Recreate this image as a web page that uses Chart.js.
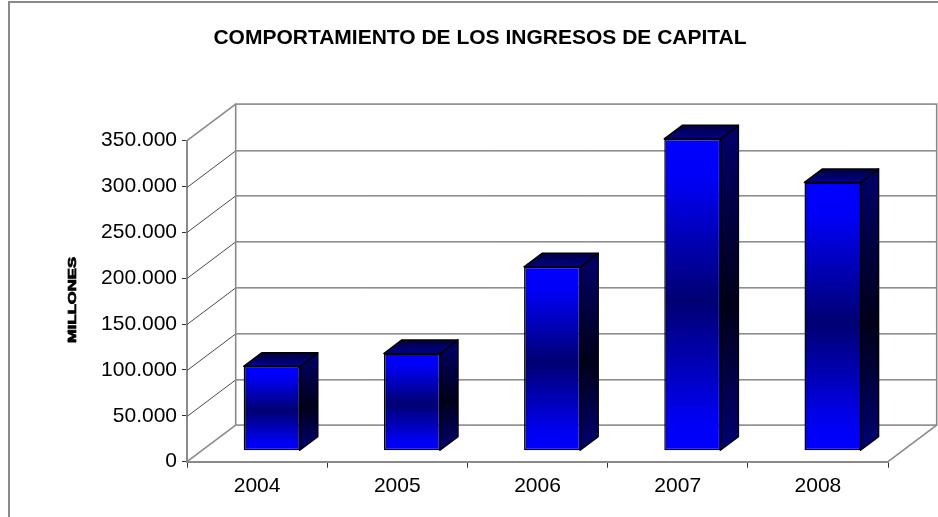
<!DOCTYPE html>
<html>
<head>
<meta charset="utf-8">
<script src="https://cdn.jsdelivr.net/npm/chart.js@4.4.1/dist/chart.umd.min.js"></script>
<style>
  html, body { margin: 0; padding: 0; background: #fff; }
  #wrap { width: 938px; height: 517px; position: relative; }
</style>
</head>
<body>
<div id="wrap"><canvas id="c"></canvas></div>
<script>
// datos (millones)
const years = ["2004", "2005", "2006", "2007", "2008"];
const ingresos = [92000, 106000, 200500, 340000, 292500];
const yMin = 0, yMax = 350000, yStep = 50000;
const titulo = "COMPORTAMIENTO DE LOS INGRESOS DE CAPITAL";
const ejeY = "MILLONES";

// oblique 3D look: full depth of the floor, where the bar front sits, bar depth
const DEPTH = { x: 48.7, y: -36.6 };
const BAR_FRONT = 0.30;
const BAR_DEPTH = 0.37;
const FONT = "'Liberation Sans', Arial, sans-serif";

const fmt = v => String(v).replace(/\B(?=(\d{3})+(?!\d))/g, ".");

function frontGradient(c) {
  const chart = c.chart;
  if (!chart.chartArea) return "#0000ff";
  const y = chart.scales.y;
  const t = y.getPixelForValue(c.raw), b = y.getPixelForValue(0);
  const g = chart.ctx.createLinearGradient(0, t, 0, b);
  g.addColorStop(0, "#0000ff");
  g.addColorStop(0.12, "#0000f8");
  g.addColorStop(0.52, "#000072");
  g.addColorStop(0.9, "#0000f2");
  g.addColorStop(1, "#0000ff");
  return g;
}

const box3d = {
  id: "box3d",
  beforeDraw(chart) {
    const ctx = chart.ctx;
    ctx.save();
    ctx.strokeStyle = "#8a8a8a";
    ctx.lineWidth = 2;
    ctx.strokeRect(9, 2, 940, 520);
    ctx.restore();
  },
  beforeDatasetsDraw(chart) {
    const ctx = chart.ctx;
    const { left, right, top, bottom } = chart.chartArea;
    const y = chart.scales.y;
    const dx = DEPTH.x, dy = DEPTH.y;
    ctx.save();
    // gridlines: side wall diagonals + back wall
    ctx.lineWidth = 1;
    ctx.strokeStyle = "#4a4a4a";
    for (let v = yMin + yStep; v < yMax; v += yStep) {
      const p = Math.round(y.getPixelForValue(v)) + 0.5;
      ctx.beginPath();
      ctx.moveTo(left, p);
      ctx.lineTo(left + dx, p + dy);
      ctx.lineTo(right + dx, p + dy);
      ctx.stroke();
    }
    // walls and floor outline
    ctx.strokeStyle = "#8a8a8a";
    ctx.lineWidth = 1.6;
    ctx.strokeRect(left + dx, top + dy, right - left, bottom - top);
    ctx.beginPath();
    ctx.moveTo(left, top); ctx.lineTo(left + dx, top + dy);
    ctx.moveTo(left, bottom); ctx.lineTo(left + dx, bottom + dy);
    ctx.moveTo(right, bottom); ctx.lineTo(right + dx, bottom + dy);
    ctx.stroke();
    ctx.restore();
    // bars are drawn by the library, pushed back into the depth
    ctx.save();
    ctx.translate(DEPTH.x * BAR_FRONT, DEPTH.y * BAR_FRONT);
  },
  afterDatasetsDraw(chart) {
    const ctx = chart.ctx;
    ctx.restore();
    const ox = DEPTH.x * BAR_FRONT, oy = DEPTH.y * BAR_FRONT;
    const ddx = DEPTH.x * BAR_DEPTH, ddy = DEPTH.y * BAR_DEPTH;
    const meta = chart.getDatasetMeta(0);
    ctx.save();
    ctx.lineJoin = "round";
    ctx.strokeStyle = "#000";
    ctx.lineWidth = 1.5;
    meta.data.forEach(bar => {
      const { x, y, base, width } = bar.getProps(["x", "y", "base", "width"], true);
      const l = x - width / 2 + ox, r = x + width / 2 + ox;
      const t = y + oy, b = base + oy;
      // side face
      const gs = ctx.createLinearGradient(0, t + ddy, 0, b);
      gs.addColorStop(0, "#00006c");
      gs.addColorStop(0.55, "#000018");
      gs.addColorStop(1, "#000074");
      ctx.beginPath();
      ctx.moveTo(r, t); ctx.lineTo(r + ddx, t + ddy);
      ctx.lineTo(r + ddx, b + ddy); ctx.lineTo(r, b);
      ctx.closePath();
      ctx.fillStyle = gs;
      ctx.fill();
      ctx.stroke();
      // top face
      const gt = ctx.createLinearGradient(0, t, 0, t + ddy);
      gt.addColorStop(0, "#000090");
      gt.addColorStop(1, "#00003c");
      ctx.beginPath();
      ctx.moveTo(l, t); ctx.lineTo(l + ddx, t + ddy);
      ctx.lineTo(r + ddx, t + ddy); ctx.lineTo(r, t);
      ctx.closePath();
      ctx.fillStyle = gt;
      ctx.fill();
      ctx.stroke();
    });
    ctx.restore();
  },
  afterDraw(chart) {
    const ctx = chart.ctx;
    // title
    ctx.save();
    ctx.font = "bold 21px " + FONT;
    ctx.fillStyle = "#000";
    ctx.textAlign = "center";
    ctx.textBaseline = "alphabetic";
    ctx.fillText(titulo, 480, 44);
    ctx.restore();
    // y axis title, heavy and stretched
    ctx.save();
    ctx.translate(73, 300);
    ctx.rotate(-Math.PI / 2);
    ctx.font = "bold 11px " + FONT;
    const w = ctx.measureText(ejeY).width;
    ctx.scale(86 / w, 1);
    ctx.fillStyle = "#000";
    ctx.strokeStyle = "#000";
    ctx.lineWidth = 0.7;
    ctx.textAlign = "center";
    ctx.textBaseline = "middle";
    ctx.fillText(ejeY, 0, 0);
    ctx.strokeText(ejeY, 0, 0);
    ctx.restore();
  }
};

new Chart(document.getElementById("c"), {
  type: "bar",
  data: {
    labels: years,
    datasets: [{
      data: ingresos,
      backgroundColor: frontGradient,
      borderColor: "#000",
      borderWidth: 1.5,
      borderSkipped: false,
      barPercentage: 0.4,
      categoryPercentage: 1
    }]
  },
  options: {
    responsive: true,
    maintainAspectRatio: false,
    animation: false,
    events: [],
    clip: false,
    layout: { padding: { left: 0, right: 50, top: 140.7, bottom: 0 } },
    plugins: {
      legend: { display: false },
      tooltip: { enabled: false },
      title: { display: false }
    },
    scales: {
      x: {
        offset: true,
        grid: { offset: true, drawOnChartArea: false, tickLength: 6, tickColor: "#333", tickWidth: 1 },
        border: { color: "#8a8a8a", width: 2 },
        ticks: { color: "#000", padding: 6, font: { family: FONT, size: 21 } },
        afterFit(s) { s.height = 517 - 461.7; }
      },
      y: {
        min: yMin, max: yMax,
        grid: { drawOnChartArea: false, tickLength: 5, tickColor: "#333", tickWidth: 1 },
        border: { color: "#8a8a8a", width: 2 },
        ticks: { stepSize: yStep, color: "#000", padding: 5, callback: v => fmt(v),
                 font: { family: FONT, size: 21 } },
        afterFit(s) { s.width = 187; }
      }
    }
  },
  plugins: [box3d]
});
</script>
</body>
</html>
